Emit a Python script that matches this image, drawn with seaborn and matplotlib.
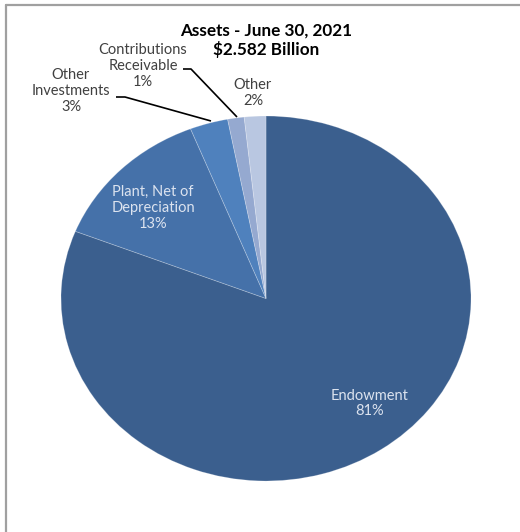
import matplotlib
matplotlib.use("Agg")
import matplotlib.pyplot as plt
import seaborn as sns
from matplotlib.lines import Line2D

# ---- data ----
categories = ["Endowment", "Plant, Net of\nDepreciation", "Other\nInvestments",
              "Contributions\nReceivable", "Other"]
values = [81.0, 13.0, 3.0, 1.3, 1.7]
title = "Assets - June 30, 2021\n$2.582 Billion"
colors = ["#3B5F8E", "#4571A9", "#4F81BD", "#95A9D0", "#B9C7E1"]

sns.set_theme(style="white")
plt.rcParams['font.family'] = ['Lato', 'DejaVu Sans']

W, H = 520, 532
fig = plt.figure(figsize=(W / 100, H / 100), dpi=100)
ax = fig.add_axes([0, 0, 1, 1])

# ellipse geometry in pixels
cx, cy, rx, ry = 266, 298.5, 205, 182.5


def P(x, y):
    return ((x - cx) / rx, (cy - y) / ry)


ax.pie(values, colors=colors, startangle=90, counterclock=False,
       wedgeprops=dict(edgecolor=(1, 1, 1, 0.25), linewidth=0.6))
ax.set_aspect('auto')
ax.set_xlim(-cx / rx, (W - cx) / rx)
ax.set_ylim((cy - H) / ry, cy / ry)
ax.axis('off')

pct = [f"{v:.0f}%" for v in values]
labels = [f"{c}\n{p}" for c, p in zip(categories, pct)]

# label positions (pixel centres)
pos = [(370, 403.5), (153, 208), (71, 91), (143, 66), (253, 93)]
inside = [True, True, False, False, False]
fs = 10.5
for lab, (x, y), ins in zip(labels, pos, inside):
    ax.text(*P(x, y), lab, ha='center', va='center', fontsize=fs,
            color='#DCE3EF' if ins else '#404040', linespacing=1.15)

# leader lines
leaders = [
    [(116, 97), (125, 97), (211, 121)],
    [(183, 69), (191, 69), (237, 117)],
]
for pts in leaders:
    xs, ys = zip(*[P(x, y) for x, y in pts])
    ax.plot(xs, ys, color='black', lw=1.2, solid_capstyle='butt')

ax.text(*P(266, 40), title, ha='center', va='center', fontsize=12.3,
        fontweight='bold', color='black', linespacing=1.15)

# frame
fig.add_artist(Line2D([6 / W, 1], [1 - 5 / H, 1 - 5 / H], color='#A0A0A0', lw=1.6))
fig.add_artist(Line2D([6 / W, 6 / W], [0, 1 - 5 / H], color='#A0A0A0', lw=1.6))

fig.savefig("out.png", dpi=100)
